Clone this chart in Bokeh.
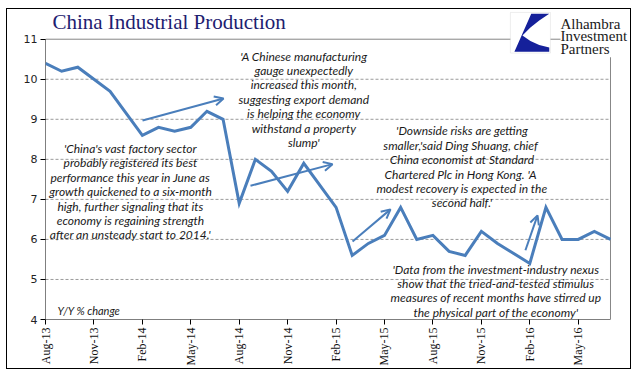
from bokeh.plotting import figure
from bokeh.models import (Range1d, FixedTicker, Label, Arrow, OpenHead,
                          BoxAnnotation, PolyAnnotation)
from bokeh.embed import file_html
from bokeh.resources import INLINE
import math

# ---------------- data ----------------
dates = ["2013-08", "2013-09", "2013-10", "2013-11", "2013-12",
         "2014-02", "2014-03", "2014-04", "2014-05", "2014-06", "2014-07",
         "2014-08", "2014-09", "2014-10", "2014-11", "2014-12",
         "2015-02", "2015-03", "2015-04", "2015-05", "2015-06", "2015-07",
         "2015-08", "2015-09", "2015-10", "2015-11", "2015-12",
         "2016-02", "2016-03", "2016-04", "2016-05", "2016-06", "2016-07"]
ip_yoy = [10.4, 10.2, 10.3, 10.0, 9.7,
          8.6, 8.8, 8.7, 8.8, 9.2, 9.0,
          6.9, 8.0, 7.7, 7.2, 7.9,
          6.8, 5.6, 5.9, 6.1, 6.8, 6.0,
          6.1, 5.7, 5.6, 6.2, 5.9,
          5.4, 6.8, 6.0, 6.0, 6.2, 6.0]
tick_labels = ["Aug-13", "Nov-13", "Feb-14", "May-14", "Aug-14", "Nov-14",
               "Feb-15", "May-15", "Aug-15", "Nov-15", "Feb-16", "May-16"]
y_ticks = [4, 5, 6, 7, 8, 9, 10, 11]
y_min, y_max = 4, 11
x_last = "2016-07"

quotes = [
    "'China's vast factory sector\nprobably registered its best\nperformance this year in June as\n"
    "growth quickened to a six-month\nhigh, further signaling that its\n"
    "economy is regaining strength\nafter an unsteady start to 2014.'",
    "'A Chinese manufacturing\ngauge unexpectedly\nincreased this month,\n"
    "suggesting export demand\nis helping the economy\nwithstand a property\nslump'",
    "'Downside risks are getting\nsmaller,'said Ding Shuang,  chief\nChina economist at Standard\n"
    "Chartered Plc in Hong Kong.  'A\nmodest recovery is expected in the\nsecond half.'",
    "'Data from the investment-industry nexus\nshow that the tried-and-tested stimulus\n"
    "measures of recent months have stirred up\nthe physical part of the economy'",
]
# ---------------------------------------

MON = {"Jan": 1, "Feb": 2, "Mar": 3, "Apr": 4, "May": 5, "Jun": 6,
       "Jul": 7, "Aug": 8, "Sep": 9, "Oct": 10, "Nov": 11, "Dec": 12}

def midx(year, month):
    return (year - 2013) * 12 + month - 8

xs = [midx(int(d[:4]), int(d[5:])) for d in dates]
tick_pos = [midx(2000 + int(t[4:]), MON[t[:3]]) for t in tick_labels]
x_end = midx(int(x_last[:4]), int(x_last[5:]))

BLUE = "#4A7EBB"

# frame extends above and right of the chart area so the header/logo fit
p = figure(width=623, height=359, output_backend="svg", toolbar_location=None,
           x_range=Range1d(0, x_end + 1.239), y_range=Range1d(y_min, y_max + 0.742),
           min_border_left=38, min_border_right=0, min_border_top=0,
           min_border_bottom=46, background_fill_color="white",
           border_fill_color="white")
p.styles = {"outline": "1px solid #000000", "margin-left": "7px", "margin-top": "9px"}
p.outline_line_color = None

# grid lines and chart-area border
grid_y = [t for t in y_ticks if y_min < t < y_max]
p.segment(x0=[0] * len(grid_y), x1=[x_end] * len(grid_y), y0=grid_y, y1=grid_y,
          line_color="#9a9a9a", line_dash="3 2", line_width=1)
p.segment(x0=[0, x_end], x1=[x_end, x_end], y0=[y_max, y_min], y1=[y_max, y_max],
          line_color="#868686", line_width=1)
p.segment(x0=[0, 0], x1=[0, x_end], y0=[y_min, y_min], y1=[y_max, y_min],
          line_color="#000000", line_width=1)

p.line(xs, ip_yoy, line_color=BLUE, line_width=3, line_join="miter")

# axes
p.xaxis.ticker = FixedTicker(ticks=tick_pos)
p.xaxis.major_label_overrides = {pos: lab for pos, lab in zip(tick_pos, tick_labels)}
p.xaxis.major_label_orientation = math.pi / 2
p.xaxis.major_label_text_font = "Liberation Serif"
p.xaxis.major_label_text_font_size = "12px"
p.xaxis.major_label_text_color = "#111111"
p.xaxis.major_label_standoff = 3
p.xaxis.major_tick_out = 5
p.xaxis.major_tick_in = 0
p.xaxis.minor_tick_line_color = None
p.xaxis.axis_line_color = None
p.xaxis.major_tick_line_color = "#000000"

p.yaxis.ticker = FixedTicker(ticks=y_ticks)
p.yaxis.major_label_text_font = "DejaVu Sans"
p.yaxis.major_label_text_font_size = "11px"
p.yaxis.major_label_text_color = "#222222"
p.yaxis.major_label_standoff = 3
p.yaxis.major_tick_out = 5
p.yaxis.major_tick_in = 0
p.yaxis.minor_tick_line_color = None
p.yaxis.axis_line_color = None
p.yaxis.major_tick_line_color = "#000000"

p.xgrid.grid_line_color = None
p.ygrid.grid_line_color = None

# title
p.add_layout(Label(x=0.43, y=11.42, text="China Industrial Production",
                   text_align="left", text_baseline="middle",
                   text_font="Liberation Serif", text_font_size="21px",
                   text_color="#1d2070"))

# quotes
quote_pos = [(5.27, 7.19), (16.0, 9.50), (25.8, 7.81), (27.9, 4.72)]
for (qx, qy), q in zip(quote_pos, quotes):
    p.add_layout(Label(x=qx, y=qy, text=q, text_align="center",
                       text_baseline="middle", text_font="Lato",
                       text_font_style="italic", text_font_size="12px",
                       text_line_height=0.96, text_color="#1a1a1a"))

p.add_layout(Label(x=0.74, y=4.22, text="Y/Y % change", text_align="left",
                   text_baseline="middle", text_font="Lato",
                   text_font_style="italic", text_font_size="11px",
                   text_color="#1a1a1a"))

# arrows
arrows = [((6.01, 8.97), (11.03, 9.52)), ((12.70, 7.34), (17.78, 7.88)),
          ((19.02, 5.95), (21.37, 6.75)), ((29.73, 5.73), (30.48, 6.60))]
for (x0, y0), (x1, y1) in arrows:
    p.add_layout(Arrow(end=OpenHead(size=9, line_color=BLUE, line_width=2),
                       x_start=x0, y_start=y0, x_end=x1, y_end=y1,
                       line_color=BLUE, line_width=2))

# logo
bl, br, bt, bb = 28.8, 31.28, 11.668, 10.654
p.add_layout(BoxAnnotation(left=bl, right=br, top=bt, bottom=bb,
                           fill_color="white", fill_alpha=1,
                           line_color="#c8c8c8", line_width=1))
shape = [(0.52, 0.03), (0.97, 0.03), (0.72, 0.20), (0.50, 0.37), (0.30, 0.57),
         (0.50, 0.70), (0.72, 0.80), (0.97, 0.86), (0.97, 0.97), (0.10, 0.97)]
p.add_layout(PolyAnnotation(xs=[bl + u * (br - bl) for u, v in shape],
                            ys=[bt - v * (bt - bb) for u, v in shape],
                            fill_color="#15209a", fill_alpha=1, line_color=None))
p.add_layout(Label(x=31.9, y=11.07, text="Alhambra\nInvestment\nPartners",
                   text_align="left", text_baseline="middle",
                   text_font="Liberation Serif", text_font_size="15px",
                   text_line_height=0.8, text_color="#1a1a1a",
                   background_fill_color="white", background_fill_alpha=1))

open("out.html", "w").write(file_html(p, INLINE))
